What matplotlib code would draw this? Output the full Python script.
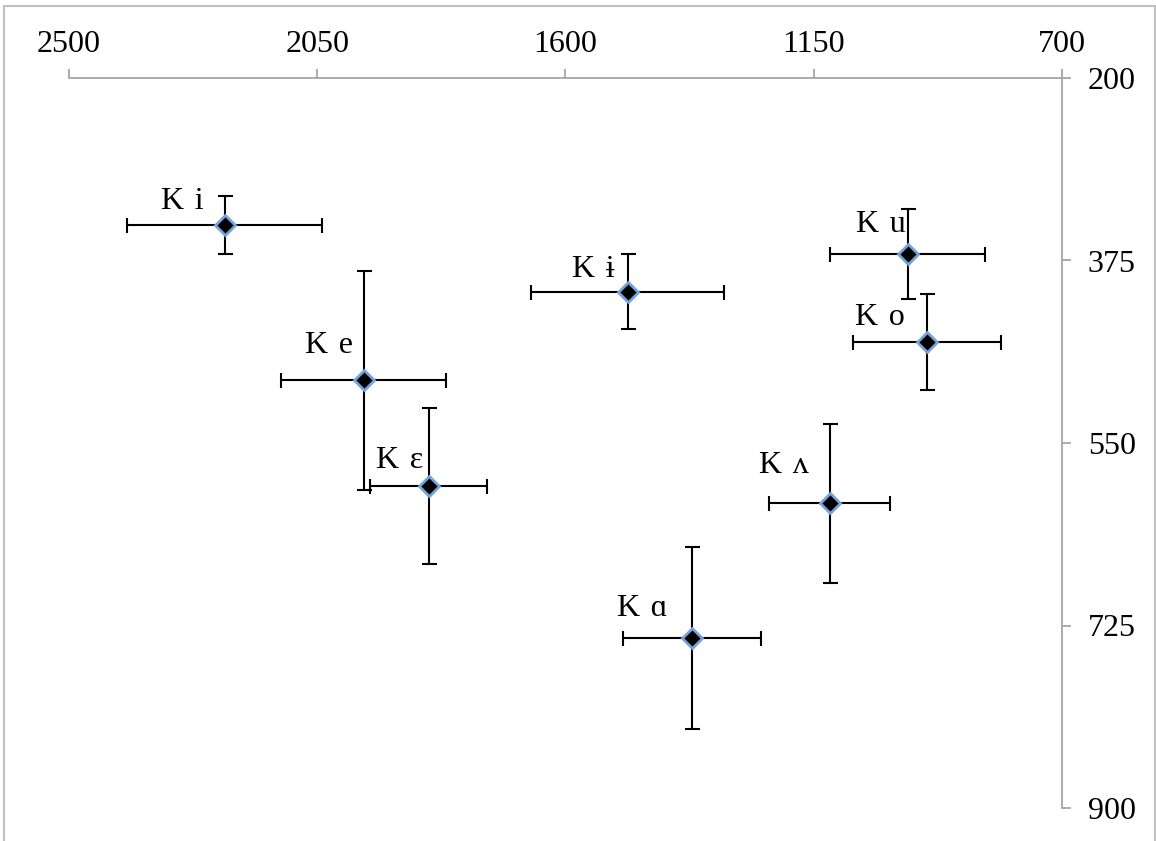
import numpy as np
import matplotlib
matplotlib.use('Agg')
import matplotlib.pyplot as plt
from matplotlib.patches import Rectangle

plt.rcParams['font.family'] = ['Liberation Serif', 'DejaVu Serif']

# vowel formant means (Hz) with error half-widths
vowels = ['i', 'e', 'ɛ', 'ɨ', 'ɑ', 'ʌ', 'u', 'o']
f2 = [2218, 1966, 1848, 1487, 1371, 1121, 980, 944]
f1 = [341, 490, 591, 405, 737, 608, 369, 453]
f2_err = [176, 150, 106, 175, 125, 110, 141, 134]
f1_err = [28, 105, 75, 36, 87, 76, 43, 46]

xticks = [2500, 2050, 1600, 1150, 700]
yticks = [200, 375, 550, 725, 900]

# label offsets from the marker, in pixels (left edge, baseline)
label_offsets = [(-64, 16), (-59, 27), (-53, 18), (-56, 15),
                 (-75, 22), (-71, 30), (-52, 22), (-72, 17)]

grey = '#a6a6a6'

fig = plt.figure(figsize=(11.56, 8.41), dpi=100)
ax = fig.add_axes([69/1156, 1-808/841, (1062-69)/1156, (808-78)/841])

ax.errorbar(f2, f1, xerr=f2_err, yerr=f1_err, fmt='none', ecolor='black',
            elinewidth=1.5, capsize=5.4, capthick=1.5, zorder=2)
ax.plot(f2, f1, linestyle='none', marker='D', markersize=10.5,
        markerfacecolor='black', markeredgecolor='#74a3d8', markeredgewidth=2.0, zorder=3)

for v, x, y, off in zip(vowels, f2, f1, label_offsets):
    ax.annotate('K\u2004' + v, (x, y), xytext=off, textcoords='offset pixels',
                ha='left', va='baseline', fontsize=23, color='black')

ax.set_xlim(2500, 700)
ax.set_ylim(900, 200)
ax.set_xticks(xticks)
ax.set_yticks(yticks)
ax.xaxis.tick_top()
ax.yaxis.tick_right()
for s in ['left', 'bottom']:
    ax.spines[s].set_visible(False)
for s in ['top', 'right']:
    ax.spines[s].set_color(grey)
    ax.spines[s].set_linewidth(1.3)
ax.tick_params(axis='x', direction='out', length=6.5, width=1.3, color=grey,
               labelsize=23, pad=7)
ax.tick_params(axis='y', direction='out', length=6.5, width=1.3, color=grey,
               labelsize=23, pad=12)

# chart frame
fig.patches.append(Rectangle((4/1156, -0.05), (1155-4)/1156, 1.05-6/841,
                             transform=fig.transFigure, fill=False,
                             edgecolor='#c0c0c0', linewidth=1.5))

fig.savefig('out.png', dpi=100)
